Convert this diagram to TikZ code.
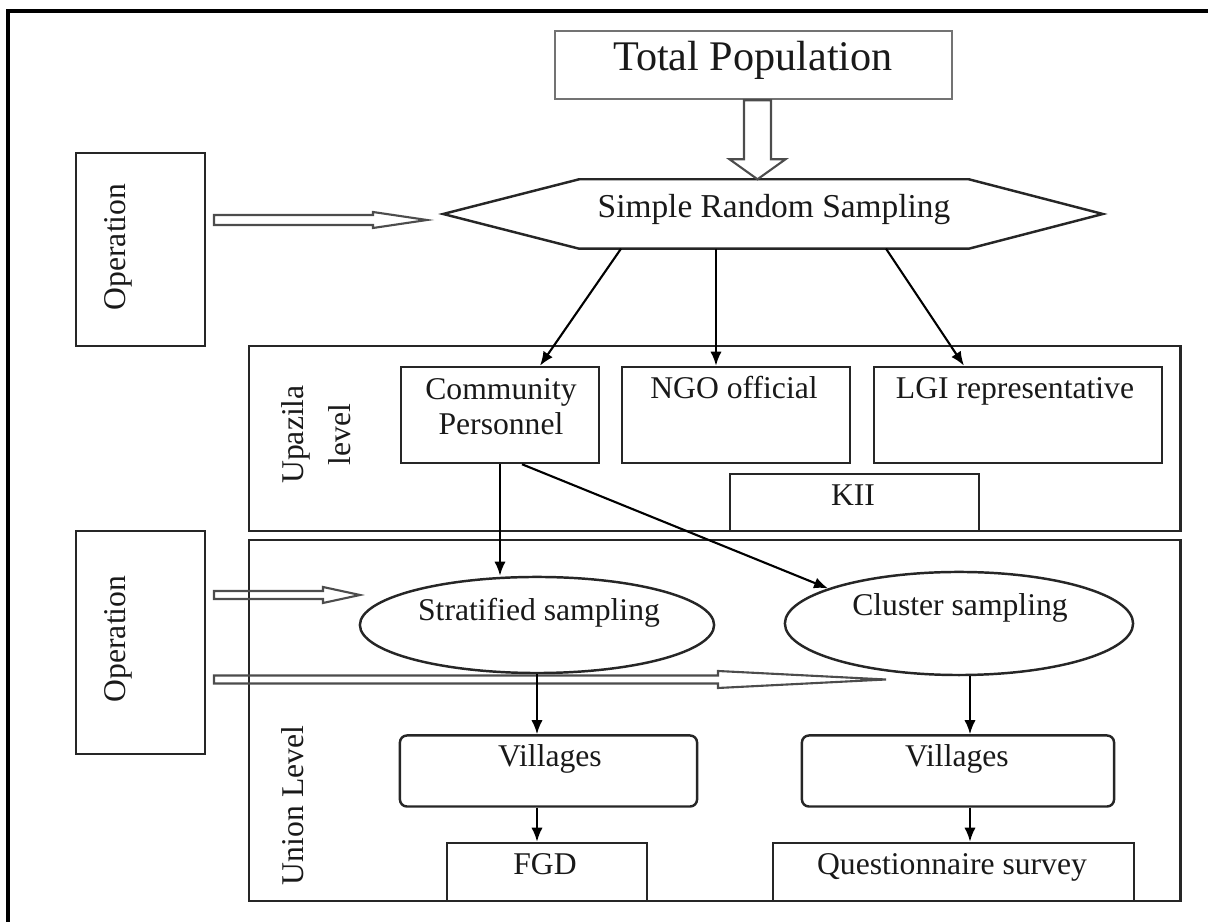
\documentclass[tikz,border=0pt]{standalone}
\usepackage{fontspec}
\setmainfont{Liberation Serif}
\usetikzlibrary{shapes.geometric,arrows.meta,calc}

\newcommand{\hollowR}[5]{%
  \draw[hollow] ($(#1)+(0,-#3)$) -- ($(#2)+(-#5,-#3)$) -- ($(#2)+(-#5,-#4)$) -- (#2)
    -- ($(#2)+(-#5,#4)$) -- ($(#2)+(-#5,#3)$) -- ($(#1)+(0,#3)$) -- cycle;}

\begin{document}
\begin{tikzpicture}[x=0.01cm,y=-0.01cm,
    box/.style={draw=black!85,line width=0.7pt,inner sep=0pt},
    oval/.style={box,ellipse},
    rbox/.style={box,rounded corners=2pt},
    txt/.style={inner sep=0pt,font=\fontsize{9}{10}\selectfont,text=black!90},
    link/.style={-{Latex[length=4pt,width=3.2pt]},line width=0.6pt},
    hollow/.style={draw=black!70,line width=0.6pt}]
            \useasboundingbox (0,0) rectangle (1208,922);
            \draw[line width=1.1pt] (8,922) -- (8,11) -- (1208,11);

            \node[box,draw=black!55,minimum width=3.97cm,minimum height=0.68cm] (total) at (753.5,65) {};
            \node[minimum width=3.88cm,minimum height=0.68cm,inner sep=0pt] (srs) at (774,214) {};
            \draw[box] (srs.north west) -- ($(srs.west)+(-136,0)$) -- (srs.south west)
                -- (srs.south east) -- ($(srs.east)+(134,0)$) -- (srs.north east) -- cycle;

            \node[box,minimum width=1.29cm,minimum height=1.93cm] (opA) at (140.5,249.5) {};
            \node[box,minimum width=1.29cm,minimum height=2.23cm] (opB) at (140.5,642.5) {};

            \node[box,minimum width=9.31cm,minimum height=1.85cm] (upz) at (714.5,438.5) {};
            \node[box,minimum width=9.31cm,minimum height=3.61cm] (unl) at (714.5,720.5) {};

            \node[box,minimum width=1.98cm,minimum height=0.96cm] (comm) at (500,415) {};
            \node[box,minimum width=2.28cm,minimum height=0.96cm] (ngo) at (736,415) {};
            \node[box,minimum width=2.88cm,minimum height=0.96cm] (lgi) at (1018,415) {};
            \node[box,minimum width=2.49cm,minimum height=0.57cm] (kii) at (854.5,502.5) {};

            \node[oval,minimum width=3.54cm,minimum height=0.96cm] (str) at (537,625) {};
            \node[oval,minimum width=3.48cm,minimum height=1.03cm] (clu) at (959,623.5) {};

            \node[rbox,minimum width=2.97cm,minimum height=0.71cm] (vil1) at (548.5,771) {};
            \node[rbox,minimum width=3.12cm,minimum height=0.71cm] (vil2) at (958,771) {};
            \node[box,minimum width=2.00cm,minimum height=0.58cm] (fgd) at (547,872) {};
            \node[box,minimum width=3.61cm,minimum height=0.58cm] (qs) at (953.5,872) {};

            \path (753,71)
            node[txt,anchor=base,font=\fontsize{12}{14}\selectfont] (totaltxt) {Total Population};
            \path (774,218)
            node[txt,anchor=base,font=\fontsize{9.5}{11}\selectfont] (srstxt) {Simple Random Sampling};
            \path (118,247)
            node[txt,rotate=90] (opAtxt) {Operation};
            \path (118,639)
            node[txt,rotate=90] (opBtxt) {Operation};
            \path (316,434.5)
            node[txt,rotate=90,align=center,font=\fontsize{9}{13.5}\selectfont] (upztxt) {Upazila\\level};
            \path (293,805.5)
            node[txt,rotate=90] (unltxt) {Union Level};
            \path (501,378)
            node[txt,anchor=north,align=center] (commtxt) {Community\\Personnel};
            \path (734,399)
            node[txt,anchor=base] (ngotxt) {NGO official};
            \path (1015,399)
            node[txt,anchor=base] (lgitxt) {LGI representative};
            \path (853,505.6)
            node[txt,anchor=base] (kiitxt) {KII};
            \path (539,620.4)
            node[txt,anchor=base] (strtxt) {Stratified sampling};
            \path (960,616)
            node[txt,anchor=base] (clutxt) {Cluster sampling};
            \path (550,766.7)
            node[txt,anchor=base] (vil1txt) {Villages};
            \path (957,766.7)
            node[txt,anchor=base] (vil2txt) {Villages};
            \path (545,874.4)
            node[txt,anchor=base] (fgdtxt) {FGD};
            \path (952,875)
            node[txt,anchor=base] (qstxt) {Questionnaire survey};

            \coordinate (dS) at ($(total.south)+(4,0)$);
            \coordinate (dE) at (dS |- srs.north);
            \draw[hollow] ($(dS)+(-13.5,0)$) -- ($(dE)+(-13.5,-20)$) -- ($(dE)+(-28,-20)$) -- (dE)
                -- ($(dE)+(28,-20)$) -- ($(dE)+(13.5,-20)$) -- ($(dS)+(13.5,0)$) -- cycle;

            \coordinate (aS) at (214,220);
            \coordinate (aE) at (427,220);
            \coordinate (bS) at (214,595);
            \coordinate (bE) at (360,595);
            \coordinate (cS) at (214,679.5);
            \coordinate (cE) at (886,679.5);
            \hollowR{aS}{aE}{5}{8}{54}
            \hollowR{bS}{bE}{4}{8}{37}
            \hollowR{cS}{cE}{4}{8.5}{168}

            \draw[link] ($(srs.south)+(-153,0)$) -- ($(comm.north)+(40,0)$);
            \draw[link] ($(srs.south)+(-58,0)$) -- ($(ngo.north)+(-20,0)$);
            \draw[link] ($(srs.south)+(112,0)$) -- ($(lgi.north)+(-54,0)$);

            \draw[link] (comm.south) -- (comm.south |- str.north);
            \draw[link] ($(comm.south)+(22,0)$) -- (clu.165);

            \coordinate (cv) at ($(clu.south)+(11,0)$);
            \draw[link] (str.south) -- (str.south |- vil1.north);
            \draw[link] (str.south |- vil1.south) -- (str.south |- fgd.north);
            \draw[link] (cv) -- (cv |- vil2.north);
            \draw[link] (cv |- vil2.south) -- (cv |- qs.north);

        \end{tikzpicture}
\end{document}
